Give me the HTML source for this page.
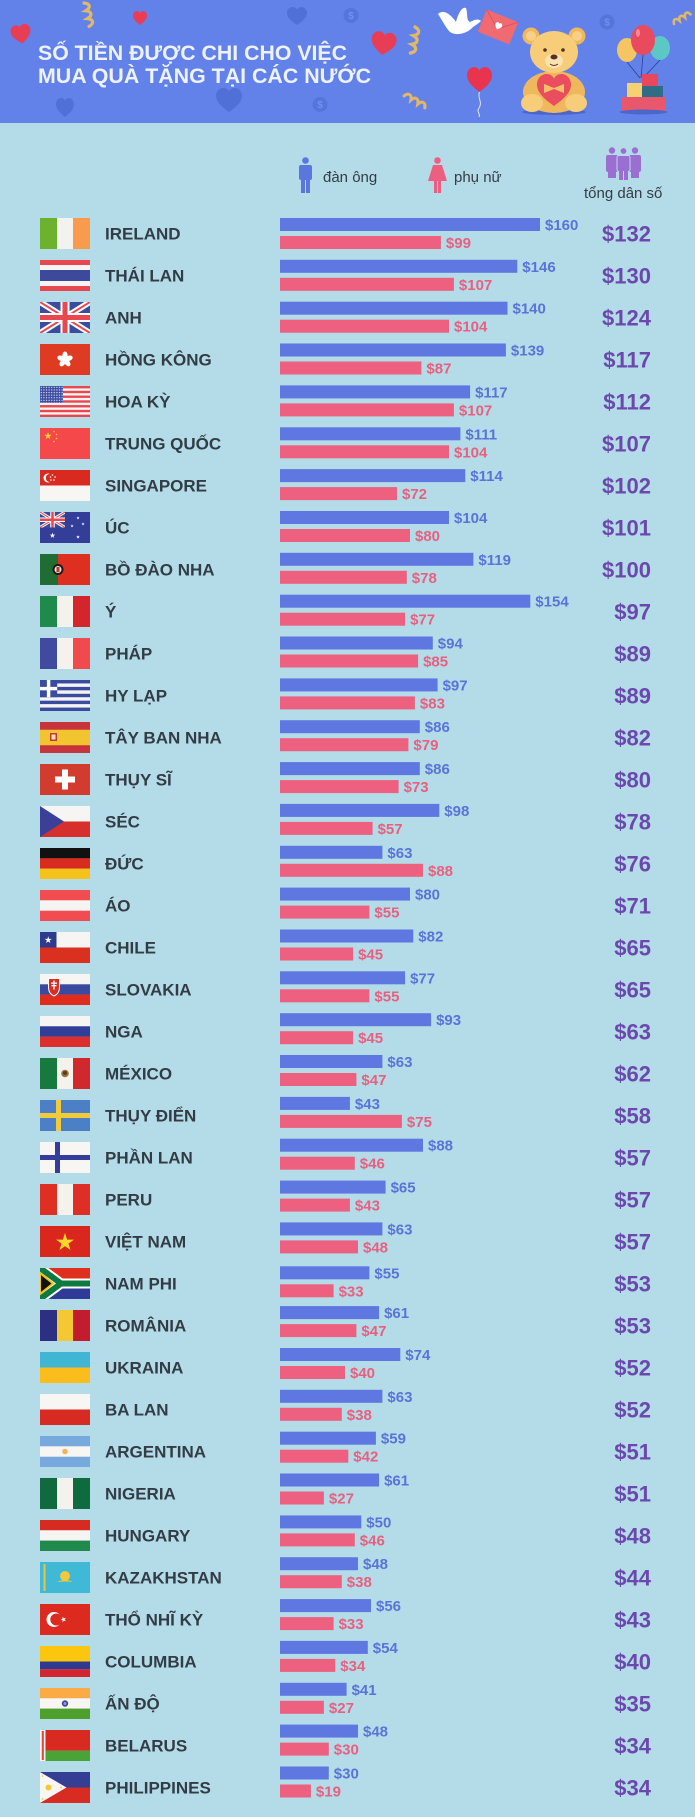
<!DOCTYPE html>
<html><head><meta charset="utf-8"><style>
html,body{margin:0;padding:0;background:#b4dbe8;}
svg{display:block;}
.n{font:bold 17px "Liberation Sans",sans-serif;fill:#323c44;}
.lm{font:bold 15px "Liberation Sans",sans-serif;fill:#5a73d8;}
.lf{font:bold 15px "Liberation Sans",sans-serif;fill:#e8607f;}
.t{font:bold 22px "Liberation Sans",sans-serif;fill:#6b48ad;text-anchor:end;}
.m{fill:#5f77e0;}
.f{fill:#ed6080;}
.lg{font:15px "Liberation Sans",sans-serif;fill:#333c44;}
.ti{font:bold 21px "Liberation Sans",sans-serif;fill:#eef2fd;}
.coin{font:bold 10px "Liberation Sans",sans-serif;fill:#7290ef;text-anchor:middle;}
</style></head><body>
<svg xmlns="http://www.w3.org/2000/svg" xmlns:xlink="http://www.w3.org/1999/xlink" width="695" height="1817" viewBox="0 0 695 1817">
<defs>
<clipPath id="fc"><rect x="0" y="0" width="50" height="31"/></clipPath>
<path id="star" d="M0,-1 L0.2245,-0.309 L0.951,-0.309 L0.363,0.118 L0.588,0.809 L0,0.382 L-0.588,0.809 L-0.363,0.118 L-0.951,-0.309 L-0.2245,-0.309Z"/>
<path id="heart" d="M0,1 C-0.6,0.55 -1,0.15 -1,-0.35 C-1,-0.75 -0.7,-1 -0.45,-1 C-0.2,-1 -0.05,-0.85 0,-0.7 C0.05,-0.85 0.2,-1 0.45,-1 C0.7,-1 1,-0.75 1,-0.35 C1,0.15 0.6,0.55 0,1Z"/>
<g id="ukf">
<rect width="50" height="31" fill="#3b4b9e"/>
<path d="M0,0L50,31M50,0L0,31" stroke="#fff" stroke-width="6"/>
<path d="M0,0L50,31M50,0L0,31" stroke="#e8474f" stroke-width="2"/>
<path d="M25,0V31M0,15.5H50" stroke="#fff" stroke-width="9"/>
<path d="M25,0V31M0,15.5H50" stroke="#e8474f" stroke-width="5"/>
</g>
<pattern id="dots" width="2.6" height="2.6" patternUnits="userSpaceOnUse"><rect width="2.6" height="2.6" fill="#3b4aa0"/><circle cx="1.3" cy="1.3" r="0.7" fill="#dfe3f5"/></pattern>
<path id="curl" d="M0,0 C6,2 6,6 0,8 C6,10 6,14 0,16 C6,18 6,22 0,24" fill="none" stroke="#e2b765" stroke-width="3.2" stroke-linecap="round"/>
</defs>

<!-- header -->
<rect x="0" y="0" width="695" height="123" fill="#6282ea"/>
<rect x="0" y="123" width="695" height="1694" fill="#b4dbe8"/>
<!-- faint hearts & coins -->
<use xlink:href="#heart" transform="translate(297,16) scale(10,9)" fill="#5070d8"/>
<use xlink:href="#heart" transform="translate(65,107.5) scale(9,9.5)" fill="#5070d8"/>
<use xlink:href="#heart" transform="translate(229,100) scale(13,12)" fill="#5070d8"/>
<circle cx="351" cy="15.5" r="7.5" fill="#5574dc"/><text x="351" y="19" class="coin">$</text>
<circle cx="320" cy="104.5" r="7.5" fill="#5574dc"/><text x="320" y="108" class="coin">$</text>
<circle cx="607" cy="22" r="7.5" fill="#5574dc"/><text x="607" y="25.5" class="coin">$</text>
<!-- red hearts -->
<use xlink:href="#heart" transform="translate(21,34) rotate(-10) scale(10,9.5)" fill="#e83e55"/>
<use xlink:href="#heart" transform="translate(140,18) scale(7,7)" fill="#e83e55"/>
<use xlink:href="#heart" transform="translate(383.5,43.5) rotate(8) scale(12.5,11.5)" fill="#e83e55"/>
<!-- curls -->
<use xlink:href="#curl" transform="translate(84,3) rotate(-12)"/>
<use xlink:href="#curl" transform="translate(415,27) rotate(10) scale(1,1.1)"/>
<use xlink:href="#curl" transform="translate(404,96) rotate(-60) scale(0.9,1)"/>
<use xlink:href="#curl" transform="translate(674,24) rotate(-120) scale(0.8,0.8)"/>
<!-- title -->
<text x="38" y="60" class="ti" textLength="309" lengthAdjust="spacingAndGlyphs">SỐ TIỀN ĐƯỢC CHI CHO VIỆC</text>
<text x="38" y="83" class="ti" textLength="333" lengthAdjust="spacingAndGlyphs">MUA QUÀ TẶNG TẠI CÁC NƯỚC</text>
<!-- dove -->
<path d="M438,14 C444,8 452,16 456,22 C458,14 462,6 466,8 C468,14 466,20 470,22 C474,20 478,18 481,21 C478,24 474,26 472,28 C466,34 456,36 450,32 C446,28 442,20 438,14Z" fill="#ffffff"/>
<!-- envelope -->
<g transform="translate(498,27) rotate(22)"><rect x="-17" y="-12" width="34" height="24" fill="#f06a72"/><path d="M-17,-12 L0,2 L17,-12" fill="none" stroke="#e05560" stroke-width="1"/><use xlink:href="#heart" transform="translate(0,-1) scale(3.5,3.5)" fill="#fff"/></g>
<!-- heart balloon -->
<path d="M479.5,92 C477,98 483,102 479,108 C476,112 481,114 479,117" fill="none" stroke="#dfe6fb" stroke-width="1"/>
<use xlink:href="#heart" transform="translate(479.5,79.5) scale(12.5,12.5)" fill="#e8344f"/>
<!-- bear -->
<ellipse cx="554" cy="112" rx="32" ry="3" fill="#4d66c9"/>
<circle cx="531" cy="36" r="8.5" fill="#f0b85c"/><circle cx="531" cy="36" r="5" fill="#f7cf86"/>
<circle cx="577" cy="36" r="8.5" fill="#f0b85c"/><circle cx="577" cy="36" r="5" fill="#f7cf86"/>
<ellipse cx="554" cy="92" rx="31" ry="21" fill="#f0b85c"/>
<ellipse cx="554" cy="52" rx="24" ry="21" fill="#f7cd7a"/>
<ellipse cx="554" cy="61" rx="9" ry="7" fill="#fbe3b0"/>
<ellipse cx="554" cy="57" rx="3.5" ry="2.5" fill="#5b2f24"/>
<circle cx="545" cy="50" r="1.8" fill="#5b2f24"/><circle cx="563" cy="50" r="1.8" fill="#5b2f24"/>
<path d="M550,64 Q554,67 558,64" fill="none" stroke="#5b2f24" stroke-width="1"/>
<ellipse cx="532" cy="103" rx="11" ry="9" fill="#f7cd7a"/><ellipse cx="576" cy="103" rx="11" ry="9" fill="#f7cd7a"/>
<use xlink:href="#heart" transform="translate(554,90) scale(17,16)" fill="#ea4d5e"/>
<path d="M544,84 L554,88 L564,84 L564,93 L554,89 L544,93Z" fill="#f3c06a"/>
<!-- balloons & gifts -->
<path d="M627,62 L640,78 M643,55 L641,78 M660,60 L643,78" stroke="#2d3f8e" stroke-width="0.8" fill="none"/>
<ellipse cx="627" cy="50" rx="10" ry="12" fill="#f5c463"/>
<ellipse cx="660" cy="48" rx="10" ry="12" fill="#5cc8c6"/>
<ellipse cx="643" cy="40" rx="12" ry="15" fill="#e94a5e"/>
<ellipse cx="638" cy="33" rx="2" ry="4" fill="#f58a98"/>
<rect x="622" y="97" width="43" height="15" fill="#e8576c"/>
<rect x="641" y="86" width="22" height="11" fill="#2e6d86"/>
<rect x="627" y="83" width="15" height="14" fill="#f5d171"/>
<rect x="642" y="74" width="16" height="12" fill="#e8475c"/>
<ellipse cx="643.5" cy="112" rx="24" ry="2.5" fill="#4d66c9"/>

<!-- legend -->
<g fill="#5b76dc">
<circle cx="305.5" cy="160.5" r="3.3"/>
<rect x="299" y="165" width="13" height="15" rx="2"/>
<rect x="301" y="178" width="4" height="15"/><rect x="306" y="178" width="4" height="15"/>
</g>
<text x="323" y="182" class="lg">đàn ông</text>
<g fill="#ec5f80">
<circle cx="437.5" cy="160.5" r="3.3"/>
<path d="M433,165 H442 L447,181 H428Z"/>
<rect x="434" y="180" width="3" height="13"/><rect x="438" y="180" width="3" height="13"/>
</g>
<text x="454" y="182" class="lg">phụ nữ</text>
<g fill="#9b6fd2">
<circle cx="612" cy="150.5" r="3.2"/><circle cx="635" cy="150.5" r="3.2"/>
<rect x="606" y="155" width="12" height="17" rx="2"/><rect x="629" y="155" width="12" height="17" rx="2"/>
<rect x="608" y="170" width="8" height="8"/><rect x="631" y="170" width="8" height="8"/>
<circle cx="623.5" cy="151" r="3.4" stroke="#b4dbe8" stroke-width="1"/>
<rect x="617" y="155.5" width="13" height="16" rx="2" stroke="#b4dbe8" stroke-width="1"/>
<rect x="619" y="170" width="4" height="10"/><rect x="624" y="170" width="4" height="10"/>
</g>
<text x="584" y="198" class="lg">tổng dân số</text>

<!-- rows -->
<!-- 0 Ireland -->
<g transform="translate(0,218)">
<g transform="translate(40,0)" clip-path="url(#fc)"><rect width="17" height="31" fill="#6cb22e"/><rect x="17" width="16" height="31" fill="#f4f2ee"/><rect x="33" width="17" height="31" fill="#f99a4c"/></g>
<text x="105" y="21.5" class="n">IRELAND</text>
<rect x="280" y="0" width="260" height="13" class="m"/><text x="545" y="12" class="lm">$160</text>
<rect x="280" y="18" width="160.9" height="13" class="f"/><text x="445.9" y="30" class="lf">$99</text>
<text x="651" y="23.5" class="t">$132</text>
</g>
<!-- 1 Thai -->
<g transform="translate(0,260)">
<g transform="translate(40,0)" clip-path="url(#fc)"><rect width="50" height="31" fill="#e8474f"/><rect y="5" width="50" height="21" fill="#f6f4f2"/><rect y="10" width="50" height="11" fill="#3d4a9c"/></g>
<text x="105" y="21.5" class="n">THÁI LAN</text>
<rect x="280" y="-0.2" width="237.3" height="13" class="m"/><text x="522.3" y="11.8" class="lm">$146</text>
<rect x="280" y="17.8" width="173.9" height="13" class="f"/><text x="458.9" y="29.8" class="lf">$107</text>
<text x="651" y="23.5" class="t">$130</text>
</g>
<!-- 2 Anh -->
<g transform="translate(0,302)">
<g transform="translate(40,0)" clip-path="url(#fc)"><use xlink:href="#ukf"/></g>
<text x="105" y="21.5" class="n">ANH</text>
<rect x="280" y="-0.3" width="227.5" height="13" class="m"/><text x="512.5" y="11.7" class="lm">$140</text>
<rect x="280" y="17.7" width="169" height="13" class="f"/><text x="454" y="29.7" class="lf">$104</text>
<text x="651" y="23.5" class="t">$124</text>
</g>
<!-- 3 HK -->
<g transform="translate(0,344)">
<g transform="translate(40,0)" clip-path="url(#fc)"><rect width="50" height="31" fill="#de3b22"/><g fill="#fff" transform="translate(25,15.5)"><ellipse cy="-4" rx="2.6" ry="4"/><ellipse cy="-4" rx="2.6" ry="4" transform="rotate(72)"/><ellipse cy="-4" rx="2.6" ry="4" transform="rotate(144)"/><ellipse cy="-4" rx="2.6" ry="4" transform="rotate(216)"/><ellipse cy="-4" rx="2.6" ry="4" transform="rotate(288)"/></g></g>
<text x="105" y="21.5" class="n">HỒNG KÔNG</text>
<rect x="280" y="-0.5" width="225.9" height="13" class="m"/><text x="510.9" y="11.5" class="lm">$139</text>
<rect x="280" y="17.5" width="141.4" height="13" class="f"/><text x="426.4" y="29.5" class="lf">$87</text>
<text x="651" y="23.5" class="t">$117</text>
</g>
<!-- 4 US -->
<g transform="translate(0,386)">
<g transform="translate(40,0)" clip-path="url(#fc)"><rect width="50" height="31" fill="#f6f4f2"/><g fill="#e8474f"><rect y="0" width="50" height="2.385"/><rect y="4.77" width="50" height="2.385"/><rect y="9.54" width="50" height="2.385"/><rect y="14.31" width="50" height="2.385"/><rect y="19.08" width="50" height="2.385"/><rect y="23.85" width="50" height="2.385"/><rect y="28.62" width="50" height="2.385"/></g><rect width="23" height="16.7" fill="url(#dots)"/></g>
<text x="105" y="21.5" class="n">HOA KỲ</text>
<rect x="280" y="-0.6" width="190.1" height="13" class="m"/><text x="475.1" y="11.4" class="lm">$117</text>
<rect x="280" y="17.4" width="173.9" height="13" class="f"/><text x="458.9" y="29.4" class="lf">$107</text>
<text x="651" y="23.5" class="t">$112</text>
</g>
<!-- 5 China -->
<g transform="translate(0,428)">
<g transform="translate(40,0)" clip-path="url(#fc)"><rect width="50" height="31" fill="#f4484b"/><g fill="#fcd62f"><use xlink:href="#star" transform="translate(8,8) scale(4)"/><use xlink:href="#star" transform="translate(14,3.5) scale(1.3)"/><use xlink:href="#star" transform="translate(16.5,6.5) scale(1.3)"/><use xlink:href="#star" transform="translate(16.5,10.5) scale(1.3)"/><use xlink:href="#star" transform="translate(14,13.5) scale(1.3)"/></g></g>
<text x="105" y="21.5" class="n">TRUNG QUỐC</text>
<rect x="280" y="-0.7" width="180.4" height="13" class="m"/><text x="465.4" y="11.3" class="lm">$111</text>
<rect x="280" y="17.3" width="169" height="13" class="f"/><text x="454" y="29.3" class="lf">$104</text>
<text x="651" y="23.5" class="t">$107</text>
</g>
<!-- 6 Singapore -->
<g transform="translate(0,470)">
<g transform="translate(40,0)" clip-path="url(#fc)"><rect width="50" height="15.5" fill="#d92a20"/><rect y="15.5" width="50" height="15.5" fill="#f8f6f3"/><circle cx="8" cy="8" r="4.5" fill="#fff"/><circle cx="9.8" cy="8" r="4" fill="#d92a20"/><g fill="#fff"><circle cx="12.5" cy="5" r="0.8"/><circle cx="15" cy="7" r="0.8"/><circle cx="14" cy="10" r="0.8"/><circle cx="11" cy="10" r="0.8"/><circle cx="10.5" cy="7" r="0.8"/></g></g>
<text x="105" y="21.5" class="n">SINGAPORE</text>
<rect x="280" y="-0.9" width="185.3" height="13" class="m"/><text x="470.3" y="11.1" class="lm">$114</text>
<rect x="280" y="17.1" width="117" height="13" class="f"/><text x="402" y="29.1" class="lf">$72</text>
<text x="651" y="23.5" class="t">$102</text>
</g>
<!-- 7 Australia -->
<g transform="translate(0,512)">
<g transform="translate(40,0)" clip-path="url(#fc)"><rect width="50" height="31" fill="#333e99"/><svg x="0" y="0" width="25" height="15.5" viewBox="0 0 50 31"><use xlink:href="#ukf"/></svg><g fill="#fff"><use xlink:href="#star" transform="translate(12.5,23.5) scale(3)"/><use xlink:href="#star" transform="translate(38,6) scale(1.7)"/><use xlink:href="#star" transform="translate(32,14) scale(1.7)"/><use xlink:href="#star" transform="translate(43,12) scale(1.7)"/><use xlink:href="#star" transform="translate(38,25) scale(1.9)"/></g></g>
<text x="105" y="21.5" class="n">ÚC</text>
<rect x="280" y="-1" width="169" height="13" class="m"/><text x="454" y="11" class="lm">$104</text>
<rect x="280" y="17" width="130" height="13" class="f"/><text x="415" y="29" class="lf">$80</text>
<text x="651" y="23.5" class="t">$101</text>
</g>
<!-- 8 Portugal -->
<g transform="translate(0,554)">
<g transform="translate(40,0)" clip-path="url(#fc)"><rect width="50" height="31" fill="#de2f20"/><rect width="18" height="31" fill="#1f6d33"/><circle cx="18" cy="15.5" r="5.5" fill="#1a1a1a"/><circle cx="18" cy="15.5" r="3.5" fill="#e8e4e0"/><rect x="16.5" y="13" width="3" height="5" fill="#c9302a"/></g>
<text x="105" y="21.5" class="n">BỒ ĐÀO NHA</text>
<rect x="280" y="-1.2" width="193.4" height="13" class="m"/><text x="478.4" y="10.8" class="lm">$119</text>
<rect x="280" y="16.8" width="126.8" height="13" class="f"/><text x="411.8" y="28.8" class="lf">$78</text>
<text x="651" y="23.5" class="t">$100</text>
</g>
<!-- 9 Italy -->
<g transform="translate(0,596)">
<g transform="translate(40,0)" clip-path="url(#fc)"><rect width="17" height="31" fill="#20894c"/><rect x="17" width="16" height="31" fill="#f5f2ee"/><rect x="33" width="17" height="31" fill="#d3252b"/></g>
<text x="105" y="21.5" class="n">Ý</text>
<rect x="280" y="-1.3" width="250.3" height="13" class="m"/><text x="535.3" y="10.7" class="lm">$154</text>
<rect x="280" y="16.7" width="125.1" height="13" class="f"/><text x="410.1" y="28.7" class="lf">$77</text>
<text x="651" y="23.5" class="t">$97</text>
</g>
<!-- 10 France -->
<g transform="translate(0,638)">
<g transform="translate(40,0)" clip-path="url(#fc)"><rect width="17" height="31" fill="#404ba0"/><rect x="17" width="16" height="31" fill="#f5f2ee"/><rect x="33" width="17" height="31" fill="#f04a4c"/></g>
<text x="105" y="21.5" class="n">PHÁP</text>
<rect x="280" y="-1.5" width="152.8" height="13" class="m"/><text x="437.8" y="10.5" class="lm">$94</text>
<rect x="280" y="16.5" width="138.1" height="13" class="f"/><text x="423.1" y="28.5" class="lf">$85</text>
<text x="651" y="23.5" class="t">$89</text>
</g>
<!-- 11 Greece -->
<g transform="translate(0,680)">
<g transform="translate(40,0)" clip-path="url(#fc)"><rect width="50" height="31" fill="#f6f4f2"/><g fill="#3a4c9f"><rect y="0" width="50" height="3.444"/><rect y="6.889" width="50" height="3.444"/><rect y="13.778" width="50" height="3.444"/><rect y="20.667" width="50" height="3.444"/><rect y="27.556" width="50" height="3.444"/><rect width="17.2" height="17.2"/></g><rect x="6.88" width="3.44" height="17.2" fill="#fff"/><rect y="6.88" width="17.2" height="3.44" fill="#fff"/></g>
<text x="105" y="21.5" class="n">HY LẠP</text>
<rect x="280" y="-1.6" width="157.6" height="13" class="m"/><text x="442.6" y="10.4" class="lm">$97</text>
<rect x="280" y="16.4" width="134.9" height="13" class="f"/><text x="419.9" y="28.4" class="lf">$83</text>
<text x="651" y="23.5" class="t">$89</text>
</g>
<!-- 12 Spain -->
<g transform="translate(0,722)">
<g transform="translate(40,0)" clip-path="url(#fc)"><rect width="50" height="31" fill="#c8343b"/><rect y="7.75" width="50" height="15.5" fill="#f2c430"/><rect x="10" y="11" width="7" height="8" fill="#c8343b"/><rect x="11.5" y="12.5" width="4" height="5" fill="#f5e6b0"/></g>
<text x="105" y="21.5" class="n">TÂY BAN NHA</text>
<rect x="280" y="-1.8" width="139.8" height="13" class="m"/><text x="424.8" y="10.2" class="lm">$86</text>
<rect x="280" y="16.2" width="128.4" height="13" class="f"/><text x="413.4" y="28.2" class="lf">$79</text>
<text x="651" y="23.5" class="t">$82</text>
</g>
<!-- 13 Switzerland -->
<g transform="translate(0,764)">
<g transform="translate(40,0)" clip-path="url(#fc)"><rect width="50" height="31" fill="#d13c2e"/><rect x="22" y="5.5" width="6" height="20" fill="#fff"/><rect x="15" y="12.5" width="20" height="6" fill="#fff"/></g>
<text x="105" y="21.5" class="n">THỤY SĨ</text>
<rect x="280" y="-1.9" width="139.8" height="13" class="m"/><text x="424.8" y="10.1" class="lm">$86</text>
<rect x="280" y="16.1" width="118.6" height="13" class="f"/><text x="403.6" y="28.1" class="lf">$73</text>
<text x="651" y="23.5" class="t">$80</text>
</g>
<!-- 14 Czech -->
<g transform="translate(0,806)">
<g transform="translate(40,0)" clip-path="url(#fc)"><rect width="50" height="15.5" fill="#f7f5f3"/><rect y="15.5" width="50" height="15.5" fill="#d62f2c"/><path d="M0,0 L24,15.5 L0,31Z" fill="#3b3f98"/></g>
<text x="105" y="21.5" class="n">SÉC</text>
<rect x="280" y="-2.1" width="159.3" height="13" class="m"/><text x="444.3" y="9.9" class="lm">$98</text>
<rect x="280" y="15.9" width="92.6" height="13" class="f"/><text x="377.6" y="27.9" class="lf">$57</text>
<text x="651" y="23.5" class="t">$78</text>
</g>
<!-- 15 Germany -->
<g transform="translate(0,848)">
<g transform="translate(40,0)" clip-path="url(#fc)"><rect width="50" height="10.4" fill="#111"/><rect y="10.3" width="50" height="10.4" fill="#d92c1e"/><rect y="20.6" width="50" height="10.4" fill="#f4c21b"/></g>
<text x="105" y="21.5" class="n">ĐỨC</text>
<rect x="280" y="-2.2" width="102.4" height="13" class="m"/><text x="387.4" y="9.8" class="lm">$63</text>
<rect x="280" y="15.8" width="143" height="13" class="f"/><text x="428" y="27.8" class="lf">$88</text>
<text x="651" y="23.5" class="t">$76</text>
</g>
<!-- 16 Austria -->
<g transform="translate(0,890)">
<g transform="translate(40,0)" clip-path="url(#fc)"><rect width="50" height="31" fill="#f14c50"/><rect y="10.3" width="50" height="10.4" fill="#f6f4f2"/></g>
<text x="105" y="21.5" class="n">ÁO</text>
<rect x="280" y="-2.4" width="130" height="13" class="m"/><text x="415" y="9.6" class="lm">$80</text>
<rect x="280" y="15.6" width="89.4" height="13" class="f"/><text x="374.4" y="27.6" class="lf">$55</text>
<text x="651" y="23.5" class="t">$71</text>
</g>
<!-- 17 Chile -->
<g transform="translate(0,932)">
<g transform="translate(40,0)" clip-path="url(#fc)"><rect width="50" height="15.5" fill="#f7f5f3"/><rect y="15.5" width="50" height="15.5" fill="#d9301f"/><rect width="16.5" height="15.5" fill="#2f3a8e"/><use xlink:href="#star" transform="translate(8.25,8) scale(3.8)" fill="#fff"/></g>
<text x="105" y="21.5" class="n">CHILE</text>
<rect x="280" y="-2.5" width="133.3" height="13" class="m"/><text x="418.3" y="9.5" class="lm">$82</text>
<rect x="280" y="15.5" width="73.1" height="13" class="f"/><text x="358.1" y="27.5" class="lf">$45</text>
<text x="651" y="23.5" class="t">$65</text>
</g>
<!-- 18 Slovakia -->
<g transform="translate(0,974)">
<g transform="translate(40,0)" clip-path="url(#fc)"><rect width="50" height="10.4" fill="#f7f5f3"/><rect y="10.3" width="50" height="10.4" fill="#3a4a9f"/><rect y="20.6" width="50" height="10.4" fill="#df2c1c"/><path d="M8.5,4.5 h11 v9 q0,6 -5.5,8.5 q-5.5,-2.5 -5.5,-8.5z" fill="#df2c1c" stroke="#fff" stroke-width="1"/><rect x="13.3" y="6.5" width="1.4" height="9" fill="#fff"/><rect x="11" y="8.5" width="6" height="1.3" fill="#fff"/><rect x="11.5" y="11" width="5" height="1.3" fill="#fff"/></g>
<text x="105" y="21.5" class="n">SLOVAKIA</text>
<rect x="280" y="-2.7" width="125.1" height="13" class="m"/><text x="410.1" y="9.3" class="lm">$77</text>
<rect x="280" y="15.3" width="89.4" height="13" class="f"/><text x="374.4" y="27.3" class="lf">$55</text>
<text x="651" y="23.5" class="t">$65</text>
</g>
<!-- 19 Russia -->
<g transform="translate(0,1016)">
<g transform="translate(40,0)" clip-path="url(#fc)"><rect width="50" height="10.4" fill="#f7f5f3"/><rect y="10.3" width="50" height="10.4" fill="#2f3e99"/><rect y="20.6" width="50" height="10.4" fill="#dd2e2e"/></g>
<text x="105" y="21.5" class="n">NGA</text>
<rect x="280" y="-2.8" width="151.1" height="13" class="m"/><text x="436.1" y="9.2" class="lm">$93</text>
<rect x="280" y="15.2" width="73.1" height="13" class="f"/><text x="358.1" y="27.2" class="lf">$45</text>
<text x="651" y="23.5" class="t">$63</text>
</g>
<!-- 20 Mexico -->
<g transform="translate(0,1058)">
<g transform="translate(40,0)" clip-path="url(#fc)"><rect width="17" height="31" fill="#18793f"/><rect x="17" width="16" height="31" fill="#f5f2ee"/><rect x="33" width="17" height="31" fill="#d1282e"/><circle cx="25" cy="15.5" r="3.8" fill="#9a7440"/><circle cx="25" cy="15" r="2" fill="#5c3b1e"/></g>
<text x="105" y="21.5" class="n">MÉXICO</text>
<rect x="280" y="-3" width="102.4" height="13" class="m"/><text x="387.4" y="9" class="lm">$63</text>
<rect x="280" y="15" width="76.4" height="13" class="f"/><text x="361.4" y="27" class="lf">$47</text>
<text x="651" y="23.5" class="t">$62</text>
</g>
<!-- 21 Sweden -->
<g transform="translate(0,1100)">
<g transform="translate(40,0)" clip-path="url(#fc)"><rect width="50" height="31" fill="#4b80c7"/><rect x="16" width="5" height="31" fill="#f2cb3c"/><rect y="13" width="50" height="5" fill="#f2cb3c"/></g>
<text x="105" y="21.5" class="n">THỤY ĐIỂN</text>
<rect x="280" y="-3.1" width="69.9" height="13" class="m"/><text x="354.9" y="8.9" class="lm">$43</text>
<rect x="280" y="14.9" width="121.9" height="13" class="f"/><text x="406.9" y="26.9" class="lf">$75</text>
<text x="651" y="23.5" class="t">$58</text>
</g>
<!-- 22 Finland -->
<g transform="translate(0,1142)">
<g transform="translate(40,0)" clip-path="url(#fc)"><rect width="50" height="31" fill="#f8f6f3"/><rect x="15" width="5" height="31" fill="#343d99"/><rect y="13" width="50" height="5" fill="#343d99"/></g>
<text x="105" y="21.5" class="n">PHẦN LAN</text>
<rect x="280" y="-3.3" width="143" height="13" class="m"/><text x="428" y="8.7" class="lm">$88</text>
<rect x="280" y="14.7" width="74.8" height="13" class="f"/><text x="359.8" y="26.7" class="lf">$46</text>
<text x="651" y="23.5" class="t">$57</text>
</g>
<!-- 23 Peru -->
<g transform="translate(0,1184)">
<g transform="translate(40,0)" clip-path="url(#fc)"><rect width="50" height="31" fill="#df2e24"/><rect x="17" width="16" height="31" fill="#f5f2ee"/></g>
<text x="105" y="21.5" class="n">PERU</text>
<rect x="280" y="-3.4" width="105.6" height="13" class="m"/><text x="390.6" y="8.6" class="lm">$65</text>
<rect x="280" y="14.6" width="69.9" height="13" class="f"/><text x="354.9" y="26.6" class="lf">$43</text>
<text x="651" y="23.5" class="t">$57</text>
</g>
<!-- 24 Vietnam -->
<g transform="translate(0,1226)">
<g transform="translate(40,0)" clip-path="url(#fc)"><rect width="50" height="31" fill="#d9271d"/><use xlink:href="#star" transform="translate(25,16.5) scale(9.5)" fill="#fcd52e"/></g>
<text x="105" y="21.5" class="n">VIỆT NAM</text>
<rect x="280" y="-3.6" width="102.4" height="13" class="m"/><text x="387.4" y="8.4" class="lm">$63</text>
<rect x="280" y="14.4" width="78" height="13" class="f"/><text x="363" y="26.4" class="lf">$48</text>
<text x="651" y="23.5" class="t">$57</text>
</g>
<!-- 25 South Africa -->
<g transform="translate(0,1268)">
<g transform="translate(40,0)" clip-path="url(#fc)"><rect width="50" height="15.5" fill="#de2f1f"/><rect y="15.5" width="50" height="15.5" fill="#2f3b96"/><path d="M0,0 L21,15.5 L0,31 M21,15.5 H50" stroke="#fff" stroke-width="10" fill="none"/><path d="M0,0 L21,15.5 L0,31 M21,15.5 H50" stroke="#0e7a3f" stroke-width="6" fill="none"/><path d="M0,5 L13,15.5 L0,26Z" fill="#111" stroke="#f5c21a" stroke-width="2"/></g>
<text x="105" y="21.5" class="n">NAM PHI</text>
<rect x="280" y="-1.7" width="89.4" height="13" class="m"/><text x="374.4" y="10.3" class="lm">$55</text>
<rect x="280" y="16.3" width="53.6" height="13" class="f"/><text x="338.6" y="28.3" class="lf">$33</text>
<text x="651" y="23.5" class="t">$53</text>
</g>
<!-- 26 Romania -->
<g transform="translate(0,1310)">
<g transform="translate(40,0)" clip-path="url(#fc)"><rect width="17" height="31" fill="#2c2f82"/><rect x="17" width="16" height="31" fill="#f4c832"/><rect x="33" width="17" height="31" fill="#c31c2c"/></g>
<text x="105" y="21.5" class="n">ROMÂNIA</text>
<rect x="280" y="-3.9" width="99.1" height="13" class="m"/><text x="384.1" y="8.1" class="lm">$61</text>
<rect x="280" y="14.1" width="76.4" height="13" class="f"/><text x="361.4" y="26.1" class="lf">$47</text>
<text x="651" y="23.5" class="t">$53</text>
</g>
<!-- 27 Ukraine -->
<g transform="translate(0,1352)">
<g transform="translate(40,0)" clip-path="url(#fc)"><rect width="50" height="15.5" fill="#40b5d4"/><rect y="15.5" width="50" height="15.5" fill="#fbbd1b"/></g>
<text x="105" y="21.5" class="n">UKRAINA</text>
<rect x="280" y="-4" width="120.3" height="13" class="m"/><text x="405.3" y="8" class="lm">$74</text>
<rect x="280" y="14" width="65" height="13" class="f"/><text x="350" y="26" class="lf">$40</text>
<text x="651" y="23.5" class="t">$52</text>
</g>
<!-- 28 Poland -->
<g transform="translate(0,1394)">
<g transform="translate(40,0)" clip-path="url(#fc)"><rect width="50" height="15.5" fill="#f8f6f3"/><rect y="15.5" width="50" height="15.5" fill="#d62a22"/></g>
<text x="105" y="21.5" class="n">BA LAN</text>
<rect x="280" y="-4.2" width="102.4" height="13" class="m"/><text x="387.4" y="7.8" class="lm">$63</text>
<rect x="280" y="13.8" width="61.8" height="13" class="f"/><text x="346.8" y="25.8" class="lf">$38</text>
<text x="651" y="23.5" class="t">$52</text>
</g>
<!-- 29 Argentina -->
<g transform="translate(0,1436)">
<g transform="translate(40,0)" clip-path="url(#fc)"><rect width="50" height="31" fill="#78a9dd"/><rect y="10.3" width="50" height="10.4" fill="#f8f6f3"/><circle cx="25" cy="15.5" r="2.8" fill="#f5b25c"/></g>
<text x="105" y="21.5" class="n">ARGENTINA</text>
<rect x="280" y="-4.3" width="95.9" height="13" class="m"/><text x="380.9" y="7.7" class="lm">$59</text>
<rect x="280" y="13.7" width="68.3" height="13" class="f"/><text x="353.3" y="25.7" class="lf">$42</text>
<text x="651" y="23.5" class="t">$51</text>
</g>
<!-- 30 Nigeria -->
<g transform="translate(0,1478)">
<g transform="translate(40,0)" clip-path="url(#fc)"><rect width="50" height="31" fill="#0f6a3f"/><rect x="17" width="16" height="31" fill="#f5f2ee"/></g>
<text x="105" y="21.5" class="n">NIGERIA</text>
<rect x="280" y="-4.5" width="99.1" height="13" class="m"/><text x="384.1" y="7.5" class="lm">$61</text>
<rect x="280" y="13.5" width="43.9" height="13" class="f"/><text x="328.9" y="25.5" class="lf">$27</text>
<text x="651" y="23.5" class="t">$51</text>
</g>
<!-- 31 Hungary -->
<g transform="translate(0,1520)">
<g transform="translate(40,0)" clip-path="url(#fc)"><rect width="50" height="10.4" fill="#d62b21"/><rect y="10.3" width="50" height="10.4" fill="#f6f4f2"/><rect y="20.6" width="50" height="10.4" fill="#208a4d"/></g>
<text x="105" y="21.5" class="n">HUNGARY</text>
<rect x="280" y="-4.6" width="81.3" height="13" class="m"/><text x="366.3" y="7.4" class="lm">$50</text>
<rect x="280" y="13.4" width="74.8" height="13" class="f"/><text x="359.8" y="25.4" class="lf">$46</text>
<text x="651" y="23.5" class="t">$48</text>
</g>
<!-- 32 Kazakhstan -->
<g transform="translate(0,1562)">
<g transform="translate(40,0)" clip-path="url(#fc)"><rect width="50" height="31" fill="#3fb9d6"/><circle cx="25" cy="14" r="5" fill="#f3c83a"/><path d="M17,20 Q25,16 33,20 Q25,19 17,20Z" fill="#f3c83a"/><rect x="3.5" y="2" width="2" height="27" fill="#e9c445"/></g>
<text x="105" y="21.5" class="n">KAZAKHSTAN</text>
<rect x="280" y="-4.8" width="78" height="13" class="m"/><text x="363" y="7.2" class="lm">$48</text>
<rect x="280" y="13.2" width="61.8" height="13" class="f"/><text x="346.8" y="25.2" class="lf">$38</text>
<text x="651" y="23.5" class="t">$44</text>
</g>
<!-- 33 Turkey -->
<g transform="translate(0,1604)">
<g transform="translate(40,0)" clip-path="url(#fc)"><rect width="50" height="31" fill="#dc2a1f"/><circle cx="14" cy="15.5" r="7.5" fill="#fff"/><circle cx="16.3" cy="15.5" r="6" fill="#dc2a1f"/><use xlink:href="#star" transform="translate(23.5,15.5) rotate(-90) scale(3)" fill="#fff"/></g>
<text x="105" y="21.5" class="n">THỔ NHĨ KỲ</text>
<rect x="280" y="-4.9" width="91" height="13" class="m"/><text x="376" y="7.1" class="lm">$56</text>
<rect x="280" y="13.1" width="53.6" height="13" class="f"/><text x="338.6" y="25.1" class="lf">$33</text>
<text x="651" y="23.5" class="t">$43</text>
</g>
<!-- 34 Colombia -->
<g transform="translate(0,1646)">
<g transform="translate(40,0)" clip-path="url(#fc)"><rect width="50" height="15.5" fill="#fcc60f"/><rect y="15.5" width="50" height="7.75" fill="#2e3a92"/><rect y="23.25" width="50" height="7.75" fill="#d2252e"/></g>
<text x="105" y="21.5" class="n">COLUMBIA</text>
<rect x="280" y="-5.1" width="87.8" height="13" class="m"/><text x="372.8" y="6.9" class="lm">$54</text>
<rect x="280" y="12.9" width="55.3" height="13" class="f"/><text x="340.3" y="24.9" class="lf">$34</text>
<text x="651" y="23.5" class="t">$40</text>
</g>
<!-- 35 India -->
<g transform="translate(0,1688)">
<g transform="translate(40,0)" clip-path="url(#fc)"><rect width="50" height="10.4" fill="#fbab46"/><rect y="10.3" width="50" height="10.4" fill="#f8f6f3"/><rect y="20.6" width="50" height="10.4" fill="#4e9f2c"/><circle cx="25" cy="15.5" r="3.2" fill="#3b4aa0"/><circle cx="25" cy="15.5" r="1.5" fill="#8f98cf"/></g>
<text x="105" y="21.5" class="n">ẤN ĐỘ</text>
<rect x="280" y="-5.2" width="66.6" height="13" class="m"/><text x="351.6" y="6.8" class="lm">$41</text>
<rect x="280" y="12.8" width="43.9" height="13" class="f"/><text x="328.9" y="24.8" class="lf">$27</text>
<text x="651" y="23.5" class="t">$35</text>
</g>
<!-- 36 Belarus -->
<g transform="translate(0,1730)">
<g transform="translate(40,0)" clip-path="url(#fc)"><rect width="50" height="20.7" fill="#d92a21"/><rect y="20.7" width="50" height="10.3" fill="#4aa337"/><rect width="5.5" height="31" fill="#f6f4f2"/><rect x="1.8" y="1" width="2" height="29" fill="#d9463c"/></g>
<text x="105" y="21.5" class="n">BELARUS</text>
<rect x="280" y="-5.4" width="78" height="13" class="m"/><text x="363" y="6.6" class="lm">$48</text>
<rect x="280" y="12.6" width="48.8" height="13" class="f"/><text x="333.8" y="24.6" class="lf">$30</text>
<text x="651" y="23.5" class="t">$34</text>
</g>
<!-- 37 Philippines -->
<g transform="translate(0,1772)">
<g transform="translate(40,0)" clip-path="url(#fc)"><rect width="50" height="15.5" fill="#333e94"/><rect y="15.5" width="50" height="15.5" fill="#d82b21"/><path d="M0,0 L26.5,15.5 L0,31Z" fill="#f8f6f3"/><circle cx="8.5" cy="15.5" r="3" fill="#f6c933"/><g fill="#f6c933"><circle cx="2.5" cy="4" r="0.9"/><circle cx="2.5" cy="27" r="0.9"/><circle cx="21" cy="15.5" r="0.9"/></g></g>
<text x="105" y="21.5" class="n">PHILIPPINES</text>
<rect x="280" y="-5.5" width="48.8" height="13" class="m"/><text x="333.8" y="6.5" class="lm">$30</text>
<rect x="280" y="12.5" width="30.9" height="13" class="f"/><text x="315.9" y="24.5" class="lf">$19</text>
<text x="651" y="23.5" class="t">$34</text>
</g>
</svg>
</body></html>
